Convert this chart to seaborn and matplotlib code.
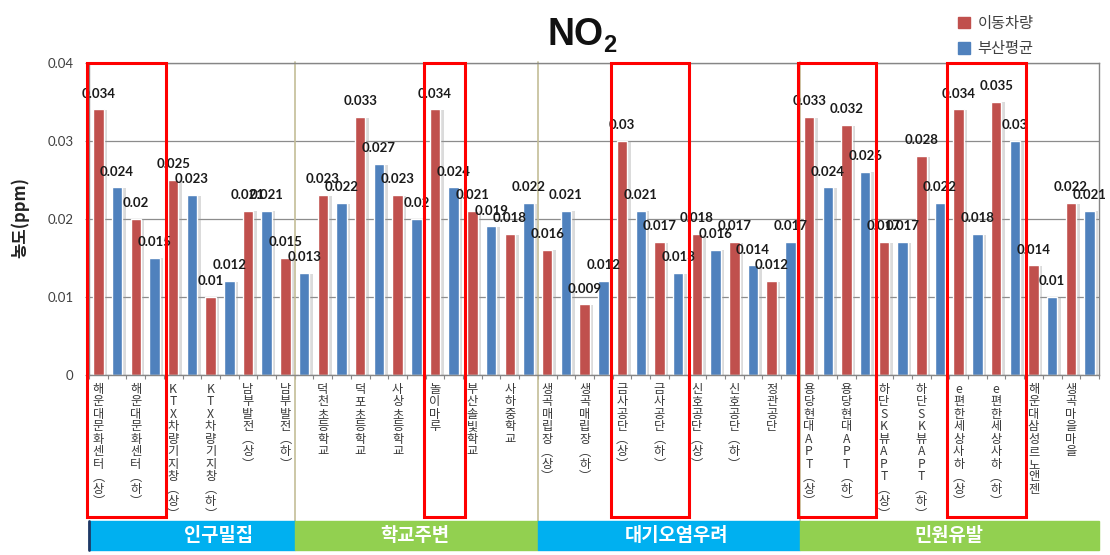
import numpy as np
import pandas as pd
import matplotlib
matplotlib.use("Agg")
import matplotlib.pyplot as plt
import matplotlib.patheffects as pe
import seaborn as sns
from matplotlib.patches import Rectangle, Patch
from matplotlib.transforms import blended_transform_factory

# DATA
sites = ['해운대문화센터(상)', '해운대문화센터(하)', 'KTX차량기지창(상)', 'KTX차량기지창(하)',
         '남부발전(상)', '남부발전(하)', '덕천초등학교', '덕포초등학교', '사상초등학교',
         '놀이마루', '부산솔빛학교', '사하중학교', '생곡매립장(상)', '생곡매립장(하)',
         '금사공단(상)', '금사공단(하)', '신호공단(상)', '신호공단(하)', '정관공단',
         '용당현대APT(상)', '용당현대APT(하)', '하단SK뷰APT(상)', '하단SK뷰APT(하)',
         'e편한세상사하(상)', 'e편한세상사하(하)', '해운대삼성르노앤젠', '생곡마을마을']
mobile = [0.034, 0.02, 0.025, 0.01, 0.021, 0.015, 0.023, 0.033, 0.023,
          0.034, 0.021, 0.018, 0.016, 0.009, 0.03, 0.017, 0.018, 0.017, 0.012,
          0.033, 0.032, 0.017, 0.028, 0.034, 0.035, 0.014, 0.022]
busan = [0.024, 0.015, 0.023, 0.012, 0.021, 0.013, 0.022, 0.027, 0.02,
         0.024, 0.019, 0.022, 0.021, 0.012, 0.021, 0.013, 0.016, 0.014, 0.017,
         0.024, 0.026, 0.017, 0.022, 0.018, 0.03, 0.01, 0.021]
series = ['이동차량', '부산평균']
groups = ['인구밀집', '학교주변', '대기오염우려', '민원유발']
group_edges = [-0.5, 5.0, 11.5, 18.5, 26.5]
group_label_x = [2.95, 8.2, 15.2, 22.5]
highlight = [(0, 1), (9, 9), (14, 15), (19, 20), (23, 24)]

colors = ['#C0504D', '#4F81BD']
band_colors = ['#00B0F0', '#92D050', '#00B0F0', '#92D050']

sns.set_style('white')
plt.rcParams['font.family'] = ['Lato', 'Noto Sans CJK KR', 'DejaVu Sans']

df = pd.DataFrame({
    'site': sites * 2,
    'series': [series[0]] * len(sites) + [series[1]] * len(sites),
    'value': mobile + busan,
})

W, H = 1110, 555
fig = plt.figure(figsize=(W / 100, H / 100), dpi=100)
ax = fig.add_axes([89 / W, 1 - 374.5 / H, 1010 / W, 312 / H])

sns.barplot(data=df, x='site', y='value', hue='series', palette=colors,
            saturation=1, width=1.0, gap=0.44, legend=False, ax=ax, zorder=2)

# soft shadow like the spreadsheet bars
shadow = [pe.SimplePatchShadow(offset=(2.5, -0.5), shadow_rgbFace='#9a9a9a', alpha=0.35),
          pe.Normal()]
for c in ax.containers:
    for bar in c:
        bar.set_path_effects(shadow)
    ax.bar_label(c, fmt='{:g}', padding=7, fontsize=9.5, fontweight='bold',
                 color='#1a1a1a', zorder=5)

# axes styling
ax.set_xlim(-0.5, len(sites) - 0.5)
ax.set_ylim(0, 0.04)
ax.set_yticks([0, 0.01, 0.02, 0.03, 0.04])
ax.set_yticklabels(['0', '0.01', '0.02', '0.03', '0.04'], fontsize=9.5, color='#404040')
ax.yaxis.grid(True, color='#8C8C8C', lw=0.9)
ax.set_axisbelow(True)
for s in ax.spines.values():
    s.set_color('#868686')
    s.set_linewidth(1)
ax.tick_params(axis='y', left=True, length=3, width=0.8, color='#868686', pad=8)
ax.set_xlabel('')
ax.set_ylabel('')

vert = {'(': '︵', ')': '︶'}
stacked = ['\n'.join(vert.get(ch, ch) for ch in s) for s in sites]
ax.set_xticks(np.arange(len(sites)) - 0.25)
ax.set_xticklabels(stacked, rotation=0, fontsize=8.8, color='#3a3a3a',
                   linespacing=0.95, va='top', ha='center',
                   family=['Noto Sans CJK KR', 'DejaVu Sans'])
ax.set_xticks(np.arange(-0.5, len(sites), 0.5), minor=True)
ax.tick_params(axis='x', which='major', length=0, pad=6)
ax.tick_params(axis='x', which='minor', bottom=True, length=3, width=0.8, color='#868686')

# group separators, highlight boxes and the category band below
tr = blended_transform_factory(ax.transData, fig.transFigure)
for x in group_edges[1:-1]:
    ax.plot([x, x], [1 - 62 / H, 1 - 521 / H], transform=tr, color='#C4BD97',
            lw=1.2, clip_on=False, zorder=1)

for a, b in highlight:
    ax.add_patch(Rectangle((a - 0.55, 1 - 517 / H), (b - a) + 1.1, (517 - 63) / H,
                           transform=tr, fill=False, ec='#FF0000', lw=2.2,
                           clip_on=False, zorder=6))

for i, g in enumerate(groups):
    x0, x1 = group_edges[i], group_edges[i + 1]
    ax.add_patch(Rectangle((x0, 1 - 550 / H), x1 - x0, 29 / H, transform=tr,
                           color=band_colors[i], clip_on=False, zorder=1))
    ax.text(group_label_x[i], 1 - 535.5 / H, g, transform=tr, ha='center', va='center',
            color='white', fontsize=13.5, fontweight='bold',
            family=['Noto Sans CJK KR'])
ax.plot([-0.5, -0.5], [1 - 550 / H, 1 - 521 / H], transform=tr, color='#1F3864',
        lw=2, clip_on=False)

# title, y label, legend
fig.text(604 / W, 1 - 45 / H, 'NO', ha='right', va='baseline', fontsize=27,
         fontweight='bold', family='Liberation Sans', color='#111111')
fig.text(603 / W, 1 - 52 / H, '2', ha='left', va='baseline', fontsize=17,
         fontweight='bold', family='Liberation Sans', color='#111111')
fig.text(20 / W, 1 - 218 / H, '농도(ppm)', rotation=90, ha='center', va='center',
         fontsize=12, fontweight='bold', family=['Noto Sans CJK KR'], color='#222222')

handles = [Patch(color=c) for c in colors]
fig.legend(handles, series, loc='upper left', bbox_to_anchor=(944 / W, 1 - 1 / H),
           frameon=False, handlelength=0.8, handleheight=0.8,
           handletextpad=0.5, labelspacing=0.55, labelcolor='#404040',
           prop={'family': ['Noto Sans CJK KR'], 'size': 11})

fig.savefig('out.png', dpi=100)
